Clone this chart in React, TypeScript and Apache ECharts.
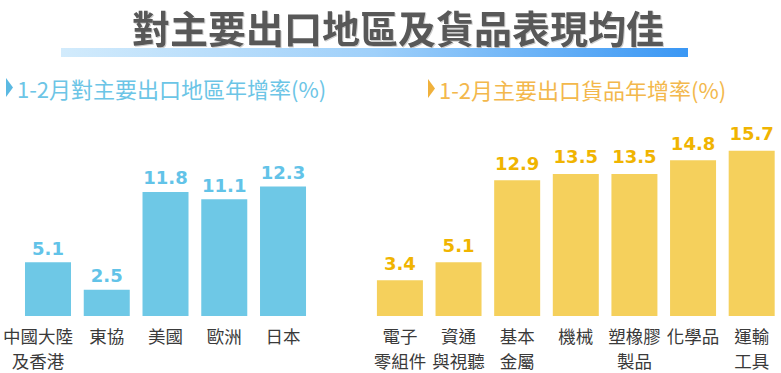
import React, { useEffect, useRef } from "react";
import * as echarts from "echarts";

const titleText = "對主要出口地區及貨品表現均佳";
const leftSubtitle = "1-2月對主要出口地區年增率(%)";
const rightSubtitle = "1-2月主要出口貨品年增率(%)";

const regionCategories = ["中國大陸\n及香港", "東協", "美國", "歐洲", "日本"];
const regionValues = [5.1, 2.5, 11.8, 11.1, 12.3];

const goodsCategories = ["電子\n零組件", "資通\n與視聽", "基本\n金屬", "機械", "塑橡膠\n製品", "化學品", "運輸\n工具"];
const goodsValues = [3.4, 5.1, 12.9, 13.5, 13.5, 14.8, 15.7];

const CJK = '"Noto Sans CJK TC", "Noto Sans", sans-serif';
const NUM = '"DejaVu Sans", sans-serif';

export default function App() {
  const ref = useRef<HTMLDivElement>(null);
  useEffect(() => {
    if (!ref.current) return;
    const chart = echarts.init(ref.current, undefined, { renderer: "svg" });
    const axisLabel = {
      color: "#3a3a3a",
      fontSize: 17.5,
      lineHeight: 25,
      fontFamily: CJK,
      margin: 7,
      interval: 0,
    };
    chart.setOption({
      animation: false,
      grid: [
        { left: 18.6, width: 293.8, top: 147.7, bottom: 56.3 },
        { left: 370.6, width: 411.6, top: 147.7, bottom: 56.3 },
      ],
      xAxis: [
        {
          type: "category",
          gridIndex: 0,
          data: regionCategories.map((c, i) =>
            i === 0 ? { value: c, textStyle: { padding: [0, 20, 0, 0] } } : c
          ),
          axisLine: { show: false },
          axisTick: { show: false },
          axisLabel,
        },
        {
          type: "category",
          gridIndex: 1,
          data: goodsCategories,
          axisLine: { show: false },
          axisTick: { show: false },
          axisLabel,
        },
      ],
      yAxis: [
        { type: "value", gridIndex: 0, min: 0, max: 16, show: false },
        { type: "value", gridIndex: 1, min: 0, max: 16, show: false },
      ],
      series: [
        {
          type: "bar",
          xAxisIndex: 0,
          yAxisIndex: 0,
          data: regionValues,
          barWidth: 46,
          itemStyle: { color: "#6ec8e6" },
          label: {
            show: true,
            position: "top",
            distance: 5,
            color: "#62c3e8",
            fontSize: 18,
            fontWeight: "bold",
            fontFamily: NUM,
          },
        },
        {
          type: "bar",
          xAxisIndex: 1,
          yAxisIndex: 1,
          data: goodsValues,
          barWidth: 46,
          itemStyle: { color: "#f5d05c" },
          label: {
            show: true,
            position: "top",
            distance: 8,
            color: "#f0b400",
            fontSize: 18,
            fontWeight: "bold",
            fontFamily: NUM,
          },
        },
      ],
      graphic: [
        {
          type: "text",
          left: 399 - 267,
          top: 7,
          style: {
            text: titleText,
            font: `bold 38px ${CJK}`,
            fill: "#595959",
            textShadowColor: "rgba(0,0,0,0.2)",
            textShadowOffsetX: 1,
            textShadowOffsetY: 1,
            textShadowBlur: 1,
          },
        },
        {
          type: "rect",
          shape: { x: 61, y: 48, width: 627, height: 9 },
          style: {
            fill: new echarts.graphic.LinearGradient(0, 0, 1, 0, [
              { offset: 0, color: "#d2ebfc" },
              { offset: 0.5, color: "#9fd0fa" },
              { offset: 1, color: "#3a97f4" },
            ]),
          },
        },
        {
          type: "polygon",
          shape: { points: [[6, 78], [6, 97], [13, 87.5]] },
          style: { fill: "#5bb9e2" },
        },
        {
          type: "text",
          x: 17,
          y: 88,
          style: {
            text: leftSubtitle,
            font: `22px ${CJK}`,
            fill: "#6cc5e6",
            verticalAlign: "middle",
          },
        },
        {
          type: "polygon",
          shape: { points: [[428, 79], [428, 98], [435, 88.5]] },
          style: { fill: "#f0b13c" },
        },
        {
          type: "text",
          x: 439,
          y: 89,
          style: {
            text: rightSubtitle,
            font: `22px ${CJK}`,
            fill: "#f3b84c",
            verticalAlign: "middle",
          },
        },
      ],
    });
    return () => chart.dispose();
  }, []);
  return (
    <div
      ref={ref}
      style={{ position: "fixed", left: 0, top: 0, width: 781, height: 373, background: "#fff" }}
    />
  );
}
